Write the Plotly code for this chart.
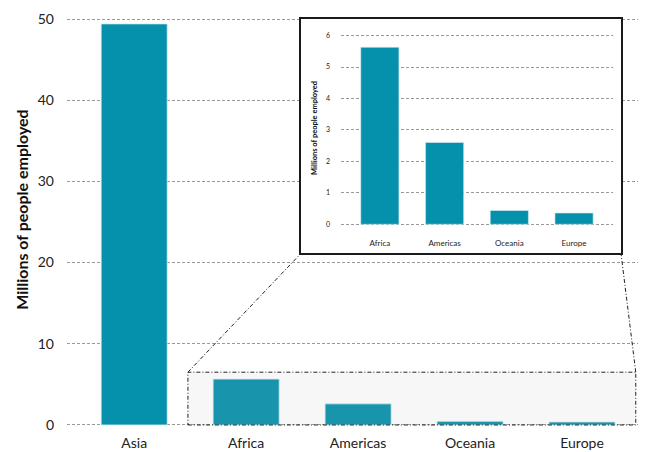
import plotly.graph_objects as go

# ---- data ----
regions = ["Asia", "Africa", "Americas", "Oceania", "Europe"]
employed = [49.4, 5.65, 2.6, 0.45, 0.37]

inset_regions = ["Africa", "Americas", "Oceania", "Europe"]
inset_employed = [5.63, 2.6, 0.44, 0.36]

main_ticks = [0, 10, 20, 30, 40, 50]
inset_ticks = [0, 1, 2, 3, 4, 5, 6]

# zoom window on the main chart (data coords)
zoom_x = [0.48, 4.48]
zoom_y = [0, 6.5]

BAR = "#0591ab"
GRID = "#9a9a9a"
FONT = "Lato"
DASHDOT = "4px,2px,1px,2px"

W, H = 646, 452
ML, MR, MT, MB = 67, 8, 17, 25

main_xrange = [-0.6, 4.5]
main_yrange = [-0.25, 50.25]

frame_xdom = [0.4098, 0.9702]
frame_ydom = [0.4236, 0.996]
inset_xdom = [0.4799, 0.956]
inset_ydom = [0.4890, 0.970]

fig = go.Figure()

fig.add_trace(go.Bar(
    x=regions, y=employed, xaxis="x", yaxis="y",
    marker=dict(color=BAR, line=dict(color="#d8eef2", width=0.8)),
    width=0.59, showlegend=False, hoverinfo="skip"))

# frame subplot (empty)
fig.add_trace(go.Scatter(x=[None], y=[None], xaxis="x2", yaxis="y2",
                         showlegend=False, hoverinfo="skip"))

fig.add_trace(go.Bar(
    x=inset_regions, y=inset_employed, xaxis="x3", yaxis="y3",
    marker=dict(color=BAR, line=dict(color="#d8eef2", width=0.6)),
    width=0.59, showlegend=False, hoverinfo="skip"))

grid = dict(showgrid=True, gridcolor=GRID, griddash="3px,2px", gridwidth=1)

fig.update_layout(
    width=W, height=H,
    margin=dict(l=ML, r=MR, t=MT, b=MB),
    paper_bgcolor="white", plot_bgcolor="white",
    font=dict(family=FONT, color="#222"),
    xaxis=dict(domain=[0, 1], range=main_xrange, type="category",
               categoryorder="array", categoryarray=regions, automargin=False,
               showgrid=False, zeroline=False, showline=False, ticks="",
               tickfont=dict(size=14, family=FONT, color="#222"),
               ticklabelstandoff=6),
    yaxis=dict(domain=[0, 1], range=main_yrange, tickvals=main_ticks,
               automargin=False,
               zeroline=False, showline=False, ticks="",
               tickfont=dict(size=14, family=FONT, color="#222"),
               ticklabelstandoff=12,
               **grid),
    xaxis2=dict(domain=frame_xdom, anchor="y2", range=[0, 1], automargin=False,
                showgrid=False, zeroline=False, showticklabels=False,
                showline=True, mirror=True, linecolor="#1a1a1a", linewidth=1.6,
                ticks=""),
    yaxis2=dict(domain=frame_ydom, anchor="x2", range=[0, 1], automargin=False,
                showgrid=False, zeroline=False, showticklabels=False,
                showline=True, mirror=True, linecolor="#1a1a1a", linewidth=1.6,
                ticks=""),
    xaxis3=dict(domain=inset_xdom, anchor="y3", range=[-0.6, 3.6],
                type="category", categoryorder="array", automargin=False,
                categoryarray=inset_regions,
                showgrid=False, zeroline=False, showline=False, ticks="",
                tickfont=dict(size=8, family=FONT, color="#222"),
                ticklabelstandoff=10),
    yaxis3=dict(domain=inset_ydom, anchor="x3", range=[-0.07, 6.2],
                tickvals=inset_ticks, zeroline=False, showline=False, ticks="",
                automargin=False,
                tickfont=dict(size=7, family=FONT, color="#222"),
                ticklabelstandoff=10,
                title=dict(text="<b>Millions of people employed</b>",
                           font=dict(size=7.5, family=FONT, color="#111"),
                           standoff=7),
                **grid),
)

# main y-axis title (placed as annotation, slightly above plot centre)
fig.add_annotation(text="<b>Millions of people employed</b>", textangle=-90,
                   xref="paper", yref="paper", x=-0.0788, y=0.5296,
                   xanchor="center", yanchor="middle", showarrow=False,
                   font=dict(size=16, family=FONT, color="#111"))

# zoom rectangle on main chart
fig.add_shape(type="rect", xref="x", yref="y",
              x0=zoom_x[0], x1=zoom_x[1], y0=zoom_y[0], y1=zoom_y[1],
              line=dict(color="#222", width=1, dash=DASHDOT),
              fillcolor="rgba(181,181,181,0.11)", layer="above")


def paper_to_data_x(p):
    return main_xrange[0] + p * (main_xrange[1] - main_xrange[0])


def paper_to_data_y(p):
    return main_yrange[0] + p * (main_yrange[1] - main_yrange[0])


# connecting lines from zoom window to inset frame
fig.add_shape(type="line", xref="x", yref="y",
              x0=zoom_x[0], y0=zoom_y[1],
              x1=paper_to_data_x(frame_xdom[0]), y1=paper_to_data_y(frame_ydom[0]),
              line=dict(color="#222", width=1, dash=DASHDOT), layer="above")
fig.add_shape(type="line", xref="x", yref="y",
              x0=zoom_x[1], y0=zoom_y[1],
              x1=paper_to_data_x(frame_xdom[1]), y1=paper_to_data_y(frame_ydom[0]),
              line=dict(color="#222", width=1, dash=DASHDOT), layer="above")

fig.write_html("out.html", config={"displayModeBar": False},
               post_script="document.body.style.margin='0px';")
